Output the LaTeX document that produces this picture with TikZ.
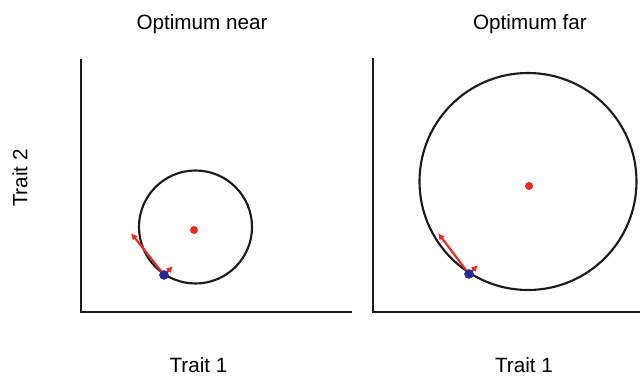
\documentclass[tikz,border=0pt]{standalone}
\usepackage{fontspec}
\setmainfont{Liberation Sans}
\usetikzlibrary{arrows.meta}
\definecolor{optred}{RGB}{236,42,32}
\definecolor{mutblue}{RGB}{38,42,150}
\definecolor{linegray}{RGB}{28,28,28}
\begin{document}
\begin{tikzpicture}[x=0.75pt,y=-0.75pt,
  lbl/.style={font=\fontsize{15.5}{18}\selectfont, inner sep=0pt, text=black},
  axisline/.style={draw=linegray, line width=2.2pt},
  fitcircle/.style={draw=linegray, line width=1.6pt},
  optdot/.style={circle, fill=optred, minimum size=6pt, inner sep=0pt},
  mutdot/.style={circle, fill=mutblue, minimum size=7pt, inner sep=0pt},
  mutarrow/.style={draw=optred, line width=1.6pt, -{Latex[length=5pt,width=5pt]}}]
\useasboundingbox (0,0) rectangle (640,377);
% titles and axis labels
\node[lbl] (tnear) at (202,24) {Optimum near};
\node[lbl] (tfar) at (530,24) {Optimum far};
\node[lbl, rotate=90] (ylab) at (20,178) {Trait 2};
\node[lbl] (xlabA) at (198.5,365) {Trait 1};
\node[lbl] (xlabB) at (524,365) {Trait 1};
% left panel axes
\coordinate (A0) at (81,312);
\coordinate (Atop) at (81,59);
\coordinate (Aright) at (352,312);
\draw[axisline, line cap=butt] (Atop) -- (A0) -- (Aright);
% right panel axes
\coordinate (B0) at (373,312);
\coordinate (Btop) at (373,58);
\coordinate (Bright) at (640,312);
\draw[axisline, line cap=butt] (Btop) -- (B0) -- (Bright);
% left panel circle, optimum, mutation
\draw[fitcircle] (195.5,227) circle[radius=56.5];
\node[optdot] (optA) at (194,230) {};
\node[mutdot] (mutA) at (164,275) {};
\coordinate (longA) at (131,233);
\coordinate (shortA) at (173,266);
\draw[mutarrow] (mutA.center) -- (longA);
\draw[mutarrow] (mutA.center) -- (shortA);
\node[mutdot] at (mutA) {};
% right panel circle, optimum, mutation
\draw[fitcircle] (528,181.5) circle[radius=108.5];
\node[optdot] (optB) at (529,186) {};
\node[mutdot] (mutB) at (469,274) {};
\coordinate (longB) at (438,233);
\coordinate (shortB) at (478,265);
\draw[mutarrow] (mutB.center) -- (longB);
\draw[mutarrow] (mutB.center) -- (shortB);
\node[mutdot] at (mutB) {};
\end{tikzpicture}
\end{document}
